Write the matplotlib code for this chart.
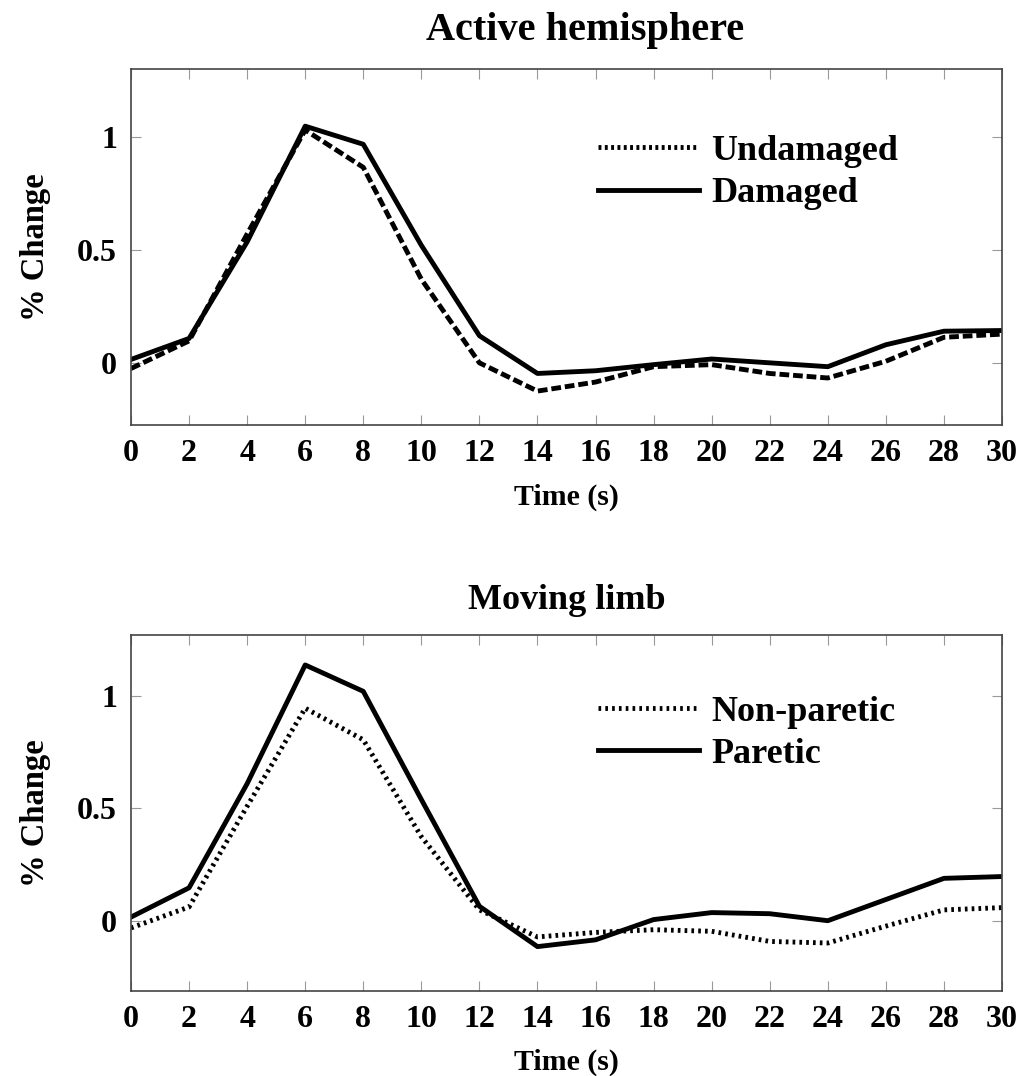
import matplotlib
matplotlib.use("Agg")
import matplotlib.pyplot as plt
from matplotlib.lines import Line2D
import numpy as np

ticksize = 23
xlabelsize = 21.5
ylabelsize = 23.5
legendsize = 26

time = [0, 2, 4, 6, 8, 10, 12, 14, 16, 18, 20, 22, 24, 26, 28, 30]

# Active hemisphere
undamaged = [-0.025, 0.097, 0.57, 1.03, 0.865, 0.37, 0.0, -0.125, -0.085, -0.017, -0.008, -0.047, -0.067, 0.007, 0.113, 0.127]
damaged = [0.015, 0.108, 0.535, 1.047, 0.967, 0.52, 0.12, -0.047, -0.035, -0.008, 0.017, 0.0, -0.017, 0.08, 0.14, 0.143]

# Moving limb
nonparetic = [-0.03, 0.063, 0.51, 0.945, 0.805, 0.375, 0.05, -0.07, -0.05, -0.038, -0.045, -0.09, -0.097, -0.022, 0.05, 0.06]
paretic = [0.018, 0.148, 0.61, 1.137, 1.02, 0.54, 0.066, -0.113, -0.083, 0.007, 0.038, 0.033, 0.002, 0.096, 0.19, 0.198]

xticks = np.arange(0, 31, 2)
yticks = [0, 0.5, 1]
yticklabels = ["0", "0.5", "1"]

plt.rcParams['font.family'] = ['Liberation Serif', 'DejaVu Serif']
plt.rcParams['font.weight'] = 'bold'

fig = plt.figure(figsize=(10.19, 10.76), dpi=100)
ax1 = fig.add_axes([131/1019, 1-425/1076, 871/1019, 356/1076])
ax2 = fig.add_axes([131/1019, 1-991/1076, 871/1019, 356/1076])

lw = 3.5
ax1.plot(time, undamaged, color="black", lw=lw, linestyle=(0, (2.0, 0.8)))
ax1.plot(time, damaged, color="black", lw=lw, linestyle="-")
h1 = [Line2D([], [], color="black", lw=lw, linestyle=(0, (0.6, 0.7))),
      Line2D([], [], color="black", lw=lw, linestyle="-")]
ax1.legend(h1, ["Undamaged", "Damaged"], loc="upper left", frameon=False,
           fontsize=legendsize, handlelength=2.8, handletextpad=0.33,
           labelspacing=0.25, borderpad=0, borderaxespad=0,
           bbox_to_anchor=(0.536, 0.815))
ax1.set_ylim(-0.275, 1.3)
ax1.set_title("Active hemisphere", fontsize=29, fontweight="bold",
              x=0.521, y=1.107, va="center", pad=0)

ax2.plot(time, nonparetic, color="black", lw=lw, linestyle=(0, (0.55, 0.85)))
ax2.plot(time, paretic, color="black", lw=lw, linestyle="-")
h2 = [Line2D([], [], color="black", lw=lw, linestyle=(0, (0.55, 0.85))),
      Line2D([], [], color="black", lw=lw, linestyle="-")]
ax2.legend(h2, ["Non-paretic", "Paretic"], loc="upper left", frameon=False,
           fontsize=legendsize, handlelength=2.8, handletextpad=0.33,
           labelspacing=0.25, borderpad=0, borderaxespad=0,
           bbox_to_anchor=(0.536, 0.83))
ax2.set_ylim(-0.31, 1.27)
ax2.set_title("Moving limb", fontsize=26, fontweight="bold",
              y=1.097, va="center", pad=0)

for ax in (ax1, ax2):
    ax.set_xlim(0, 30)
    ax.set_xticks(xticks)
    ax.set_yticks(yticks)
    ax.set_yticklabels(yticklabels)
    ax.tick_params(direction="in", length=7, width=0.8, color="#999999",
                   top=True, right=True, labelsize=ticksize, pad=10)
    for s in ax.spines.values():
        s.set_color("#444444")
        s.set_linewidth(1.2)
    ax.set_xlabel("Time (s)", fontsize=xlabelsize, fontweight="bold")
    ax.set_ylabel("% Change", fontsize=ylabelsize, fontweight="bold")
    ax.xaxis.label.set_va("center")
    ax.yaxis.label.set_va("center")
    ax.yaxis.set_label_coords(-0.11, 0.5)

ax1.xaxis.set_label_coords(0.5, -0.203)
ax2.xaxis.set_label_coords(0.5, -0.2)

plt.savefig("out.png", dpi=100)
